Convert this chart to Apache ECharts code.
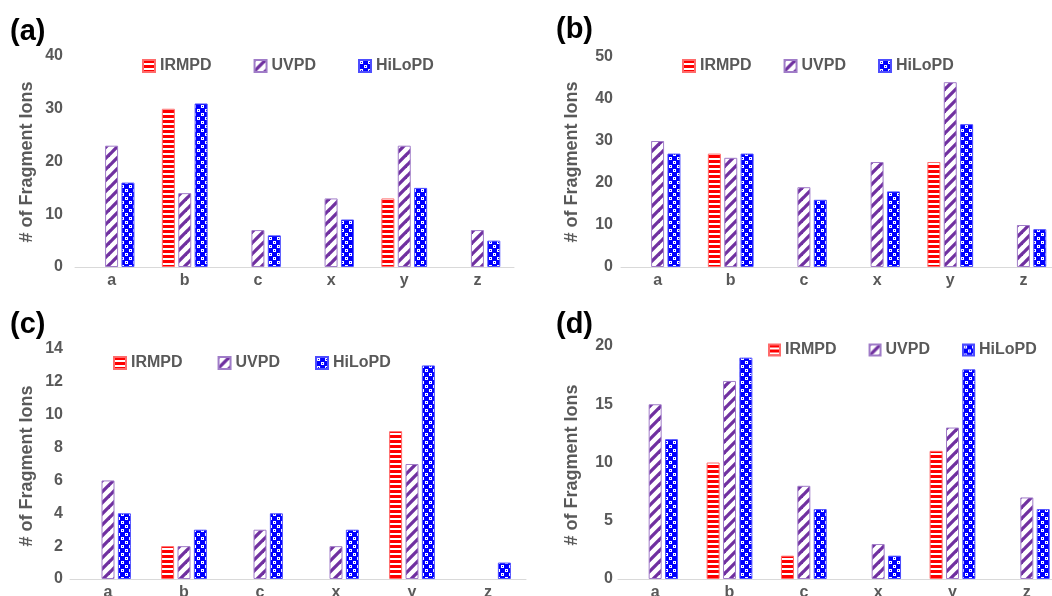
<!DOCTYPE html>
<html><head><meta charset="utf-8">
<script src="https://cdn.jsdelivr.net/npm/echarts@6/dist/echarts.min.js"></script>
<style>html,body{margin:0;padding:0;background:#fff}#main{width:1052px;height:596px}</style>
</head><body><div id="main"></div>
<script>
// ---------- data ----------
const categories = ['a', 'b', 'c', 'x', 'y', 'z'];
const seriesNames = ['IRMPD', 'UVPD', 'HiLoPD'];
const panelLabels = ['(a)', '(b)', '(c)', '(d)'];
const yAxisName = '# of Fragment Ions';
const yMax = [40, 50, 14, 20];
const yStep = [10, 10, 2, 5];

const aIRMPD  = [0, 30, 0, 0, 13, 0];
const aUVPD   = [23, 14, 7, 13, 23, 7];
const aHiLoPD = [16, 31, 6, 9, 15, 5];

const bIRMPD  = [0, 27, 0, 0, 25, 0];
const bUVPD   = [30, 26, 19, 25, 44, 10];
const bHiLoPD = [27, 27, 16, 18, 34, 9];

const cIRMPD  = [0, 2, 0, 0, 9, 0];
const cUVPD   = [6, 2, 3, 2, 7, 0];
const cHiLoPD = [4, 3, 4, 3, 13, 1];

const dIRMPD  = [0, 10, 2, 0, 11, 0];
const dUVPD   = [15, 17, 8, 3, 13, 7];
const dHiLoPD = [12, 19, 6, 2, 18, 6];

const panelData = [
  [aIRMPD, aUVPD, aHiLoPD],
  [bIRMPD, bUVPD, bHiLoPD],
  [cIRMPD, cUVPD, cHiLoPD],
  [dIRMPD, dUVPD, dHiLoPD]
];

// ---------- layout (positions/styles) ----------
const grids = [
  {left: 75,  top: 56,  width: 439, height: 211},
  {left: 621, top: 57,  width: 439, height: 210},
  {left: 70,  top: 349, width: 456, height: 230},
  {left: 618, top: 346, width: 446, height: 233}
];
const yLabelMargin = [12, 8, 7, 5];
const xLabelMargin = [6, 6, 6, 6];
const legends = [
  {left: 142, top: 58,  gap: 42, size: 12},
  {left: 682, top: 58,  gap: 32, size: 12},
  {left: 113, top: 355, gap: 35, size: 12},
  {left: 768, top: 342, gap: 32, size: 11}
];
const panelLabelPos = [[10, 32], [556, 30], [10, 325], [556, 325]];
const axisNamePos = [[27, 162], [572, 162], [27, 466], [572, 465]];

const FONT = '"Liberation Sans", Arial, Helvetica, sans-serif';
const GRAY = '#595959';

// ---------- patterns ----------
function patIRMPD() {
  const c = document.createElement('canvas'); c.width = 6; c.height = 5;
  const g = c.getContext('2d');
  g.fillStyle = '#ffffff'; g.fillRect(0, 0, 6, 5);
  g.fillStyle = '#ff0000'; g.fillRect(0, 0, 6, 3);
  return c;
}
function patUVPD() {
  const s = 11;
  const c = document.createElement('canvas'); c.width = s; c.height = s;
  const g = c.getContext('2d');
  g.fillStyle = '#ffffff'; g.fillRect(0, 0, s, s);
  g.strokeStyle = '#7030a0'; g.lineWidth = 3.3;
  for (const o of [-s, 0, s]) {
    g.beginPath(); g.moveTo(o - 2, s + 2); g.lineTo(o + s + 2, -2); g.stroke();
  }
  return c;
}
function patHiLoPD() {
  const s = 8;
  const c = document.createElement('canvas'); c.width = s; c.height = s;
  const g = c.getContext('2d');
  g.fillStyle = '#0000ff'; g.fillRect(0, 0, s, s);
  g.fillStyle = '#ffffff';
  g.fillRect(1, 1, 3, 3); g.fillRect(5, 5, 3, 3);
  g.fillStyle = '#0000ff';
  g.fillRect(2, 2, 1, 1); g.fillRect(6, 6, 1, 1);
  return c;
}
const patterns = [patIRMPD(), patUVPD(), patHiLoPD()];
const borders = ['#ff6b6b', '#a07cc8', '#4d4dff'];

// ---------- option ----------
const option = {
  animation: false,
  backgroundColor: '#ffffff',
  grid: grids.map(g => Object.assign({containLabel: false, outerBoundsMode: 'none'}, g)),
  xAxis: grids.map((g, i) => ({
    type: 'category', gridIndex: i, data: categories,
    axisLine: {lineStyle: {color: '#d9d9d9', width: 1}},
    axisTick: {show: false},
    axisLabel: {color: GRAY, fontSize: 16, fontWeight: 'bold', fontFamily: FONT, margin: xLabelMargin[i]}
  })),
  yAxis: grids.map((g, i) => ({
    type: 'value', gridIndex: i, min: 0, max: yMax[i], interval: yStep[i],
    axisLine: {show: false}, axisTick: {show: false}, splitLine: {show: false},
    axisLabel: {color: GRAY, fontSize: 16, fontWeight: 'bold', fontFamily: FONT, margin: yLabelMargin[i]}
  })),
  legend: legends.map((l, i) => ({
    data: seriesNames, left: l.left, top: l.top, padding: 0,
    itemGap: l.gap, itemWidth: l.size, itemHeight: l.size, icon: 'rect',
    textStyle: {color: GRAY, fontSize: 16, fontWeight: 'bold', fontFamily: FONT},
    selectedMode: false
  })),
  series: [],
  graphic: []
};

panelData.forEach((arrs, p) => {
  arrs.forEach((vals, s) => {
    option.series.push({
      type: 'bar', name: seriesNames[s], xAxisIndex: p, yAxisIndex: p,
      barWidth: 13, barGap: '26%',
      itemStyle: {color: {image: patterns[s], repeat: 'repeat'}, borderColor: borders[s], borderWidth: 1},
      data: vals.map(v => v === 0 ? {value: 0, itemStyle: {borderWidth: 0, opacity: 0}} : v)
    });
  });
  option.graphic.push({
    type: 'text', x: panelLabelPos[p][0], y: panelLabelPos[p][1],
    style: {text: panelLabels[p], fill: '#000', fontSize: 29, fontWeight: 'bold', fontFamily: FONT,
            textAlign: 'left', textVerticalAlign: 'middle'}
  });
  option.graphic.push({
    type: 'text', x: axisNamePos[p][0], y: axisNamePos[p][1], rotation: Math.PI / 2,
    style: {text: yAxisName, fill: GRAY, fontSize: 18, fontWeight: 'bold', fontFamily: FONT,
            textAlign: 'center', textVerticalAlign: 'middle'}
  });
});

const chart = echarts.init(document.getElementById('main'), null, {renderer: 'canvas'});
chart.setOption(option);
</script>
</body></html>
